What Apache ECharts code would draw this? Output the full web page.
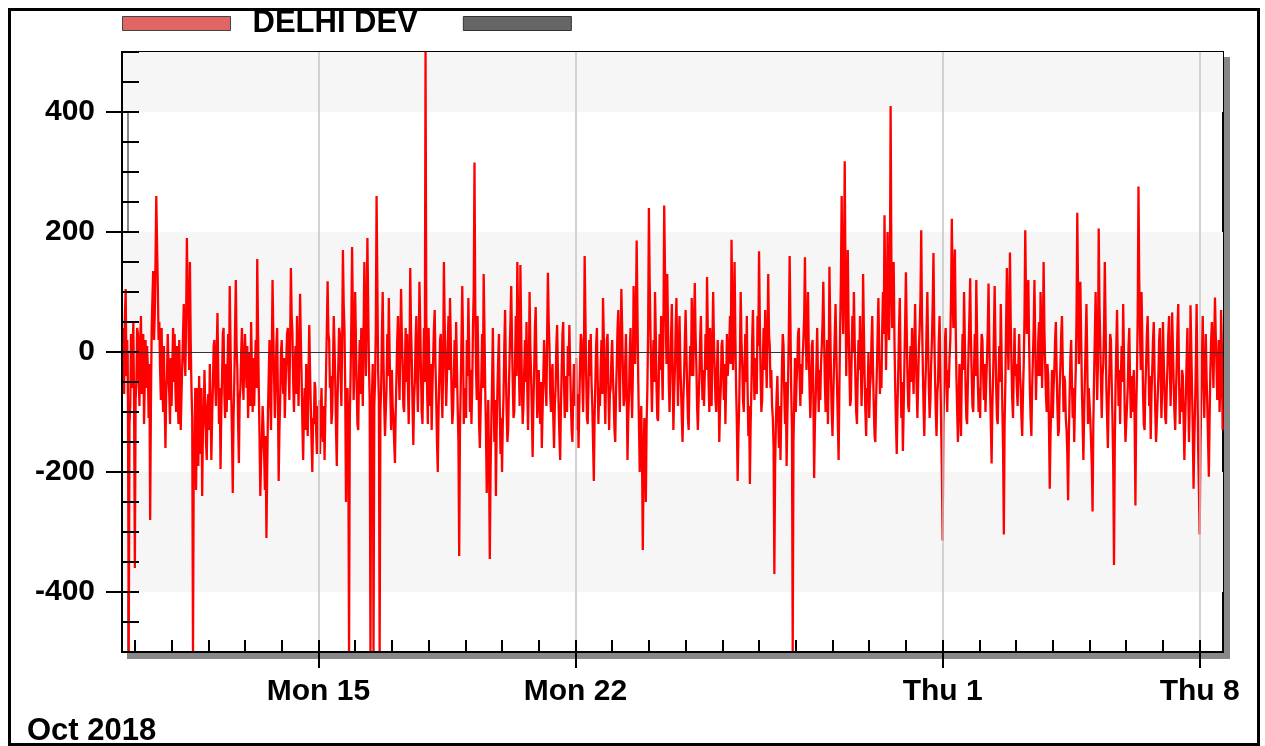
<!DOCTYPE html>
<html><head><meta charset="utf-8">
<script src="https://cdn.jsdelivr.net/npm/echarts@6/dist/echarts.min.js"></script>
<style>html,body{margin:0;padding:0;background:#fff}#c{width:1265px;height:746px}</style>
</head><body><div id="c"></div>
<script>
// ---- data: half-hourly readings, one inner array per day (first day starts 16:00) ----
const seriesName = 'DELHI DEV';
const firstDay = [2018, 9, 9];
const firstDayStartHour = 16;
const stepMinutes = 30;

const daysOct09to14 = [
  [40,-30,-70,60,105,-40,20,-80,-500,-120,-90,30,-60,-10,50,-90],
  [-360,-80,-50,40,30,-40,-90,20,60,-70,-40,30,-120,-50,20,-60,10,-30,-110,-20,-280,-90,40,90,135,20,60,150,260,180,110,20,50,-30,-80,40,-60,-100,10,-90,-160,-70,-40,30,-20,-70,-120,-10],
  [-90,-20,40,-50,30,-60,-100,10,-60,-120,20,-40,-130,-70,-20,30,80,-10,-40,50,190,100,70,-30,150,20,-60,-110,-500,-180,-150,-60,-230,-120,-60,-190,-40,-100,-170,-60,-240,-130,-110,-30,-90,-150,-180,-90],
  [-70,-130,-20,-90,-180,-110,-60,10,20,-50,-90,0,65,-30,-120,-60,-195,-100,-40,30,40,-70,-110,-20,-100,-30,30,-80,110,20,-70,-140,-235,-110,-50,40,120,10,-30,-120,-185,-80,-60,0,40,-40,-80,-10],
  [30,-20,-60,10,-110,-50,0,-90,50,-30,-100,-10,-90,-30,20,-60,155,40,-60,-140,-240,-180,-150,-90,-120,-170,-230,-140,-310,-200,-100,-40,20,-80,-130,-10,120,30,-40,-110,-60,10,40,-70,-215,-130,-80,0],
  [20,-40,-70,-10,-110,-60,-10,30,40,-30,-80,20,140,60,30,-50,-100,-30,10,-70,60,-20,-90,0,97,20,-40,-120,-180,-100,-60,-130,-20,-90,-140,-40,45,-30,-90,-150,-200,-110,-120,-50,-60,-130,-170,-90]
];
const daysOct15to20 = [
  [-120,-80,-170,-110,-60,-130,-150,-90,-180,-100,-30,40,118,30,20,-60,-40,-120,-100,-30,60,10,-50,-130,-190,-80,-20,40,30,-40,-90,20,170,80,40,-60,-250,-120,-60,-140,-500,-110,-40,50,175,60,-80,-20],
  [100,20,-60,-120,-130,-40,20,-70,40,-20,-90,30,150,50,-40,60,190,80,-20,-80,-500,-100,-70,-20,-500,-90,-50,40,260,120,-30,-80,-500,-100,-60,30,100,-10,-90,-140,-140,-60,30,-40,90,0,-70,-130],
  [-30,-90,-110,-150,-185,-100,-40,20,60,-30,-80,10,105,30,-20,-90,-100,-30,40,-50,30,-60,-120,-20,140,40,-10,-90,-155,-80,-50,20,60,-40,-100,-20,117,50,-30,-100,-120,-30,40,-50,500,60,-60,-120],
  [40,-30,-90,-20,-130,-60,-10,40,70,-20,-80,-150,-200,-100,-40,20,30,-60,-110,-30,150,50,-20,-90,-40,10,60,-30,90,20,-70,-120,-100,-40,20,-60,50,-20,-90,-150,-340,-130,-60,20,110,20,-120,-60],
  [-60,-110,20,-40,90,10,-100,-30,-120,-60,40,100,316,80,-30,-80,60,-20,-120,-160,-100,-40,30,-60,130,40,-60,-130,-235,-150,-80,-180,-345,-200,-120,-50,40,-60,-150,-80,-240,-130,-60,-10,30,-90,-170,-110],
  [-200,-120,-70,10,70,-30,-100,-150,-130,-60,0,50,110,20,-50,-110,-100,-20,60,-40,150,60,-20,-90,145,40,-60,-120,-90,-30,20,-50,50,-60,-130,-40,100,10,-40,-100,-175,-90,-30,40,75,-20,-110,-60]
];
const daysOct21to26 = [
  [-30,-90,-120,-50,-160,-100,-40,20,20,-60,-90,30,132,50,10,-70,-100,-40,-20,-110,-160,-90,-60,10,45,-30,-90,-140,-180,-90,-30,30,50,-50,-110,-60,-40,-100,10,-40,45,-20,-80,-130,-150,-70,-20,-90],
  [-60,-10,-130,-70,-160,-90,-20,30,20,-50,-100,-20,160,60,-40,-110,-120,-60,20,-40,30,-50,-90,-150,-215,-110,-50,10,40,-40,-120,-60,-90,-20,20,-70,90,30,-60,-120,-40,20,30,-60,-130,-70,-60,-10],
  [20,-40,-80,-130,-150,-70,-20,40,70,-30,-100,10,105,40,-30,-90,-80,-20,30,-60,-180,-110,-70,0,40,-50,-110,-40,110,30,-20,60,186,70,-40,-120,-200,-130,-90,-170,-330,-200,-110,-170,-250,-120,-60,40],
  [240,120,40,-40,-100,-30,20,-50,100,30,-60,-110,-115,-40,30,-30,60,-20,-80,40,244,140,60,-20,130,40,-50,-100,-40,30,80,-20,-130,-70,-30,40,90,0,-90,-20,60,-10,-60,-110,-150,-80,-40,20],
  [70,0,-60,-110,-130,-50,10,-40,90,20,-40,50,115,30,-20,-90,-130,-80,-40,20,60,-20,-80,-30,-90,-40,30,-30,125,40,-50,-100,40,-20,-90,10,100,20,-30,-80,-100,-30,20,-60,-150,-90,-60,10],
  [20,-30,-80,-20,-120,-50,30,-40,-40,10,60,-20,187,80,-30,40,150,30,-60,-120,-215,-140,-90,-10,100,20,-20,-80,-100,-30,30,-50,60,-60,-140,-90,-220,-120,-60,20,70,-20,-80,-10,-20,-70,60,10]
];
const daysOct27toNov01 = [
  [168,50,-40,-100,-80,-10,40,-30,70,0,-60,20,130,30,10,-60,-30,-90,-110,-160,-370,-190,-120,-70,-40,-110,-160,-90,-180,-100,-20,30,10,-70,-120,-50,-190,-110,-40,40,160,50,-60,-130,-500,-150,-80,-10],
  [-100,-50,-20,30,40,-40,-90,-20,-70,-10,20,60,158,40,-30,30,100,0,-60,-110,-60,10,20,-70,-210,-120,-80,-20,40,-40,-100,-30,-80,-20,10,50,117,30,-50,-100,-30,20,-120,-40,142,50,-40,-100],
  [-140,-80,-20,30,80,0,-60,-120,-180,-60,40,120,260,100,30,150,318,120,-40,60,170,50,-20,-90,-80,-10,60,0,100,20,-50,-100,-120,-40,20,-30,60,-20,-90,-30,130,40,-40,-100,-140,-60,-70,0],
  [-110,-60,-40,20,60,-30,-90,-140,-150,-80,-30,30,90,10,-70,-20,-60,40,100,30,228,90,-30,60,200,70,20,120,410,150,40,100,150,20,-60,-120,-170,-90,-30,40,90,-20,-110,-50,-165,-100,-20,50],
  [133,40,-40,-90,-100,-30,10,-50,40,-20,-70,10,80,0,-60,-110,-50,10,40,90,203,60,-20,-90,-140,-70,-30,40,100,10,-60,-110,-80,-20,20,80,165,40,-40,-100,-140,-70,-50,20,60,-30,-120,-200],
  [-314,-120,-60,20,40,-40,-100,-30,-60,-10,20,90,222,110,40,130,171,50,-40,-100,-150,-80,-20,-90,-140,-40,30,-30,100,20,-60,-110,-120,-50,10,60,123,20,-40,-90,-100,-30,30,-40,120,30,-50,-100]
];
const daysNov02to08 = [
  [-60,-110,-20,30,20,-40,-80,-20,-100,-50,-10,40,114,20,-60,-120,-186,-90,-40,30,110,20,-60,-110,-120,-50,10,-50,80,0,-90,-160,-304,-120,-50,50,140,40,-30,60,166,50,-20,-80,-110,-30,40,-40],
  [-20,-60,-90,-20,30,-30,-60,-110,-140,-70,-20,60,203,90,30,100,120,20,-60,-110,-140,-60,-10,40,120,20,-80,-20,-40,20,50,-40,100,30,-60,20,150,40,-20,-70,-100,-20,-40,-120,-228,-140,-90,-30],
  [-110,-60,-30,20,50,-30,-90,-140,-130,-60,-20,30,60,-20,-100,-40,-50,-110,-130,-170,-247,-140,-70,-10,20,-50,-110,-60,-150,-80,-30,60,232,110,-20,50,117,30,-60,-120,-180,-100,-40,20,80,-10,-120,-60],
  [-60,-110,-150,-190,-266,-120,-40,30,100,10,-80,-20,206,80,20,-50,-110,-40,-20,40,150,50,-60,-110,-160,-80,-30,30,20,-50,-110,-190,-355,-160,-60,10,70,-20,-90,-30,-120,-40,10,-50,80,0,-100,-150],
  [-150,-90,-60,10,40,-50,-110,-40,-100,-50,-30,-120,-256,-100,-40,60,276,120,30,-30,100,20,-70,-120,-130,-60,-20,30,60,-10,-90,-40,-145,-70,-30,20,50,-30,-100,-150,-150,-80,-40,20,40,-40,-110,-60],
  [50,-10,-60,-110,-120,-60,-20,30,60,-20,-90,-30,66,10,-50,-100,-130,-70,-20,40,80,-40,-120,-60,-100,-30,-40,-110,-180,-120,-70,-10,40,-60,-150,-90,78,10,-60,-130,-228,-150,-90,-20,80,-40,-160,-230],
  [-304,-160,-80,-10,60,-30,-110,-40,30,-40,-90,-150,-208,-110,-30,20,50,-10,-60,20,91,30,-20,-80,-40,20,-100,-60,70,10,-130]
];

// ---- axis ticks / labels ----
const majorTickDates = [[2018, 9, 15], [2018, 9, 22], [2018, 10, 1], [2018, 10, 8]];
const majorTickLabels = ['Mon 15', 'Mon 22', 'Thu 1', 'Thu 8'];
const firstDayTick = [2018, 9, 10];
const lastDayTick = [2018, 10, 8];
const yLabelValues = [-400, -200, 0, 200, 400];
const bandRanges = [[400, 500], [0, 200], [-400, -200]];
const periodLabel = 'Oct 2018';

// ---- build ----
const HOUR = 3600 * 1000, DAY = 24 * HOUR, STEP = stepMinutes * 60000;
const allDays = [].concat(daysOct09to14, daysOct15to20, daysOct21to26, daysOct27toNov01, daysNov02to08);
const seriesData = [];
allDays.forEach((arr, d) => {
  const dayStart = Date.UTC(firstDay[0], firstDay[1], firstDay[2] + d) + (d === 0 ? firstDayStartHour * HOUR : 0);
  arr.forEach((v, j) => seriesData.push([dayStart + j * STEP, v]));
});
const majorTs = majorTickDates.map(d => Date.UTC(d[0], d[1], d[2]));
const dayTicks = [];
for (let t = Date.UTC(...firstDayTick); t <= Date.UTC(...lastDayTick); t += DAY) dayTicks.push(t);
const xMin = Date.UTC(2018, 9, 9, 15, 36);
const xMax = Date.UTC(2018, 10, 8, 15, 15);

const FONT = '"Liberation Sans", Arial, sans-serif';
const chart = echarts.init(document.getElementById('c'), null, { renderer: 'canvas' });
chart.setOption({
  animation: false,
  backgroundColor: '#fff',
  legend: {
    left: 117, top: 3,
    itemWidth: 108, itemHeight: 14, itemGap: 45,
    icon: 'rect',
    selectedMode: false,
    textStyle: { color: '#000', fontSize: 31, fontWeight: 'bold', fontFamily: FONT, padding: [0, 0, 0, 17] },
    data: [
      { name: seriesName, itemStyle: { color: '#e06666', borderColor: '#444', borderWidth: 1 } },
      { name: ' ', itemStyle: { color: '#666666', borderColor: '#333', borderWidth: 1 } }
    ]
  },
  grid: {
    left: 122, right: 42, top: 52, bottom: 94,
    show: true, backgroundColor: '#fff', borderColor: '#000', borderWidth: 2,
    shadowColor: '#888', shadowOffsetX: 6, shadowOffsetY: 6, shadowBlur: 0
  },
  xAxis: [{
    type: 'value', min: xMin, max: xMax, scale: true, z: 10,
    axisLine: { show: true, onZero: false, lineStyle: { color: '#000', width: 2 } },
    axisTick: { show: true, inside: true, length: 12, customValues: dayTicks, lineStyle: { color: '#000', width: 2 } },
    axisLabel: {
      show: true, customValues: majorTs, margin: 25,
      color: '#000', fontSize: 30, fontWeight: 'bold', fontFamily: FONT,
      formatter: v => { const i = majorTs.indexOf(+v); return i >= 0 ? majorTickLabels[i] : ''; }
    },
    splitLine: { show: false }
  }, {
    type: 'value', min: xMin, max: xMax, scale: true, position: 'bottom', z: 10,
    axisLine: { show: false, onZero: false },
    axisTick: { show: true, inside: false, length: 16, customValues: majorTs, lineStyle: { color: '#000', width: 2 } },
    axisLabel: { show: false },
    splitLine: { show: false }
  }],
  yAxis: [{
    type: 'value', min: -500, max: 500, interval: 50, z: 10,
    axisLine: { show: true, lineStyle: { color: '#000', width: 2 } },
    axisTick: { show: true, inside: true, length: 17, lineStyle: { color: '#000', width: 2 } },
    axisLabel: {
      customValues: yLabelValues, margin: 27,
      color: '#000', fontSize: 30, fontWeight: 'bold', fontFamily: FONT
    },
    splitLine: { show: false }
  }, {
    type: 'value', min: -500, max: 500, position: 'left', z: 10,
    axisLine: { show: false },
    axisTick: { show: true, inside: false, length: 16, customValues: yLabelValues, lineStyle: { color: '#000', width: 2 } },
    axisLabel: { show: false },
    splitLine: { show: false }
  }],
  graphic: [
    { type: 'rect', left: 7, top: 7, z: 100, silent: true,
      shape: { width: 1249, height: 735 },
      style: { fill: 'none', stroke: '#000', lineWidth: 3 } },
    { type: 'text', left: 27, top: 716, z: 100, silent: true,
      style: { text: periodLabel, fill: '#000', font: 'bold 31px ' + FONT } }
  ],
  series: [
    {
      name: 'bands', type: 'line', data: [], z: 1, silent: true,
      markArea: {
        silent: true,
        itemStyle: { color: '#f6f6f6' },
        data: bandRanges.map(r => [{ yAxis: r[0] }, { yAxis: r[1] }])
      },
      markLine: {
        silent: true, symbol: 'none', label: { show: false },
        lineStyle: { color: '#c4c4c4', width: 1.5, type: 'solid' },
        data: majorTs.map(t => ({ xAxis: t }))
      }
    },
    {
      name: seriesName, type: 'line', data: seriesData, z: 3,
      showSymbol: false, symbol: 'none', sampling: null, progressive: 0,
      lineStyle: { color: '#ff0000', width: 2.3 },
      itemStyle: { color: '#e06666' }
    },
    {
      name: ' ', type: 'line', data: [], itemStyle: { color: '#666666' }, lineStyle: { color: '#666666' }
    },
    {
      name: 'zero', type: 'line', data: [], z: 5, silent: true,
      markLine: {
        silent: true, symbol: 'none', label: { show: false },
        lineStyle: { color: '#333', width: 1.2, type: 'solid' },
        data: [{ yAxis: 0 }]
      }
    }
  ]
});
</script>
</body></html>
